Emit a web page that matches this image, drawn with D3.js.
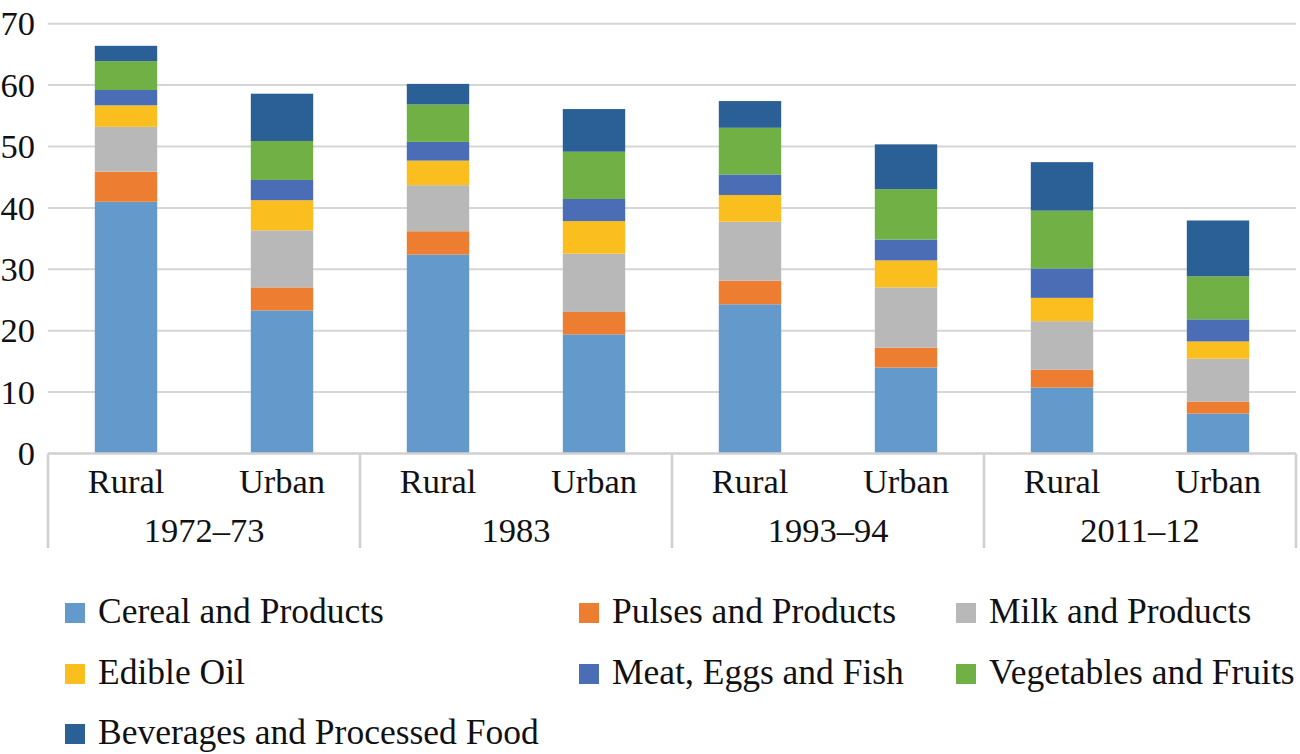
<!DOCTYPE html>
<html>
<head>
<meta charset="utf-8">
<script src="https://cdn.jsdelivr.net/npm/d3@7"></script>
<style>
  html, body { margin: 0; padding: 0; background: #fff; }
  svg { display: block; }
  text { font-family: "Liberation Serif", "Times New Roman", serif; fill: #111; }
</style>
</head>
<body>
<svg id="chart" width="1300" height="754"></svg>
<script>
// ---- data ----
const years = ["1972–73", "1983", "1993–94", "2011–12"];
const areas = ["Rural", "Urban"];
const seriesNames = [
  "Cereal and Products", "Pulses and Products", "Milk and Products",
  "Edible Oil", "Meat, Eggs and Fish", "Vegetables and Fruits",
  "Beverages and Processed Food"
];
const cereal    = [41.0, 23.3, 32.4, 19.4, 24.3, 14.0, 10.75, 6.5];
const pulses    = [4.9, 3.75, 3.8, 3.65, 3.85, 3.25, 2.9, 1.95];
const milk      = [7.3, 9.3, 7.5, 9.5, 9.6, 9.8, 7.9, 7.0];
const edibleOil = [3.5, 4.9, 4.0, 5.3, 4.35, 4.4, 3.8, 2.8];
const meat      = [2.5, 3.3, 3.05, 3.6, 3.35, 3.4, 4.8, 3.6];
const vegFruit  = [4.7, 6.35, 6.1, 7.7, 7.6, 8.2, 9.4, 7.0];
const beverages = [2.5, 7.7, 3.35, 6.95, 4.35, 7.3, 7.9, 9.1];
const yTicks = [0, 10, 20, 30, 40, 50, 60, 70];

const seriesValues = [cereal, pulses, milk, edibleOil, meat, vegFruit, beverages];
const colors = ["#6399CB", "#ED7D31", "#B8B8B8", "#FABF1E", "#4A6DB5", "#70B044", "#2A6095"];

(function () {
// table built from the arrays
const bars = [];
years.forEach((yr, i) => areas.forEach((ar, j) => {
  const idx = i * areas.length + j;
  const row = { key: yr + "|" + ar, year: yr, area: ar };
  seriesNames.forEach((s, k) => row[s] = seriesValues[k][idx]);
  bars.push(row);
}));

// ---- layout ----
const svg = d3.select("#chart");
const mLeft = 48, mRight = 1296, mTop = 23.7, mBottom = 453.5;
const font = 34.5, legFont = 35.5;

const x = d3.scaleBand().domain(bars.map(d => d.key)).range([mLeft, mRight]).padding(0);
const barW = x.bandwidth() * 0.4;
const y = d3.scaleLinear().domain([0, 70]).range([mBottom, mTop]);
const color = d3.scaleOrdinal().domain(seriesNames).range(colors);

// gridlines
svg.append("g").selectAll("line").data(yTicks.filter(t => t > 0)).join("line")
  .attr("x1", mLeft).attr("x2", mRight)
  .attr("y1", d => y(d)).attr("y2", d => y(d))
  .attr("stroke", "#D6D6D6").attr("stroke-width", 2);

// y tick labels
svg.append("g").selectAll("text").data(yTicks).join("text")
  .attr("x", 35).attr("y", d => y(d))
  .attr("dy", "0.34em")
  .attr("text-anchor", "end")
  .attr("font-size", font)
  .text(d => d);

// stacked bars
const stack = d3.stack().keys(seriesNames)(bars);
svg.append("g").selectAll("g").data(stack).join("g")
  .attr("fill", d => color(d.key))
  .selectAll("rect").data(d => d).join("rect")
  .attr("x", d => x(d.data.key) + (x.bandwidth() - barW) / 2)
  .attr("width", barW)
  .attr("y", d => y(d[1]))
  .attr("height", d => y(d[0]) - y(d[1]));

// category axis (multi-level)
const axisColor = "#D0D0D0";
const axisBottom = 548;
svg.append("line")
  .attr("x1", mLeft).attr("x2", mRight)
  .attr("y1", mBottom).attr("y2", mBottom)
  .attr("stroke", axisColor).attr("stroke-width", 2.5);

const groupW = (mRight - mLeft) / years.length;
const seps = d3.range(years.length + 1).map(i => mLeft + i * groupW);
svg.append("g").selectAll("line").data(seps).join("line")
  .attr("x1", d => d).attr("x2", d => d)
  .attr("y1", mBottom).attr("y2", axisBottom)
  .attr("stroke", axisColor).attr("stroke-width", 2.5);

svg.append("g").selectAll("text").data(bars).join("text")
  .attr("x", d => x(d.key) + x.bandwidth() / 2)
  .attr("y", 493)
  .attr("text-anchor", "middle")
  .attr("font-size", font)
  .text(d => d.area);

svg.append("g").selectAll("text").data(years).join("text")
  .attr("x", (d, i) => mLeft + (i + 0.5) * groupW)
  .attr("y", 541.5)
  .attr("text-anchor", "middle")
  .attr("font-size", font)
  .text(d => d);

// legend
const legCols = [65, 579, 956];
const legRows = [613, 674, 734];
const legend = svg.append("g").selectAll("g").data(seriesNames).join("g")
  .attr("transform", (d, i) => `translate(${legCols[i % 3]},${legRows[Math.floor(i / 3)]})`);
legend.append("rect")
  .attr("x", 0).attr("y", -10).attr("width", 20).attr("height", 20)
  .attr("fill", d => color(d));
legend.append("text")
  .attr("x", 33).attr("y", 10)
  .attr("font-size", legFont)
  .text(d => d);
})();
</script>
</body>
</html>
